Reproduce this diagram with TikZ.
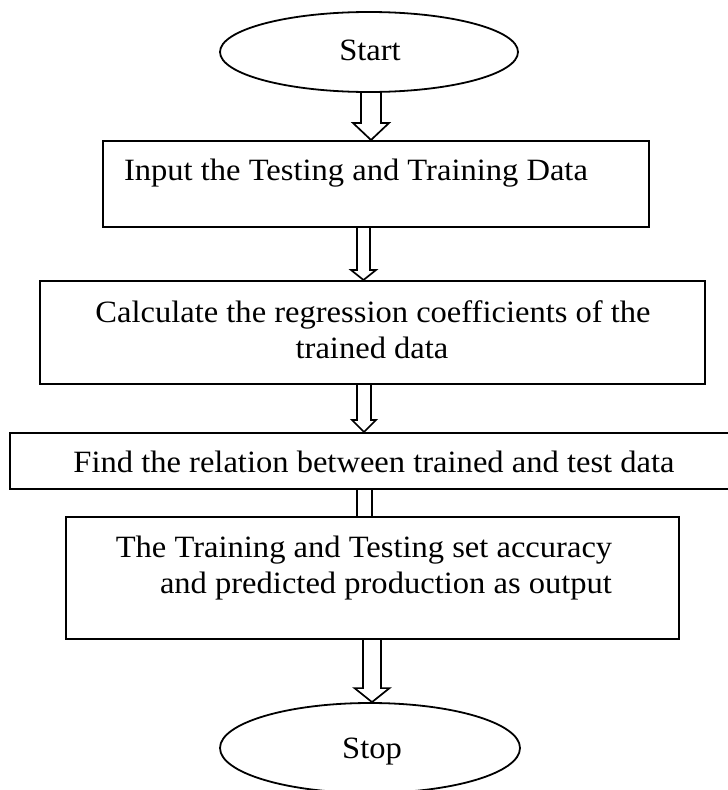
\documentclass[tikz,border=0pt]{standalone}
\usepackage{fontspec}
\setmainfont[FakeStretch=1.05]{Liberation Serif}
\usetikzlibrary{shapes.geometric,calc}

% Hollow block arrow between two anchors:
% #1 top anchor, #2 bottom anchor, #3 centre x, #4 shaft half width,
% #5 head half width, #6 head length
\newcommand\hollowarrow[6]{%
  \draw[arrowline] let \p1=(#1), \p2=(#2) in
    ({(#3-#4)*1pt},\y1) -- ({(#3-#4)*1pt},{\y2+#6*1pt})
    -- ({(#3-#5)*1pt},{\y2+#6*1pt}) -- ({#3*1pt},\y2)
    -- ({(#3+#5)*1pt},{\y2+#6*1pt}) -- ({(#3+#4)*1pt},{\y2+#6*1pt})
    -- ({(#3+#4)*1pt},\y1);}

\tikzset{
  terminal/.style={draw, line width=1.8pt, ellipse, inner sep=0pt},
  stepbox/.style={draw, line width=2pt, rectangle, inner sep=0pt},
  arrowline/.style={draw, line width=1.7pt, line join=miter},
  label/.style={anchor=base, inner sep=0pt, font=\fontsize{31}{36}\selectfont},
}

\begin{document}
\begin{tikzpicture}[x=1pt, y=-1pt]
  \useasboundingbox (0,0) rectangle (728,790);

  % terminals
  \node[terminal, minimum width=298pt, minimum height=80pt] (start) at (369,52) {};
  \node[terminal, minimum width=300pt, minimum height=90pt] (stop) at (370,748) {};

  % process boxes
  \node[stepbox, minimum width=546pt, minimum height=86pt] (b1) at (376,184) {};
  \node[stepbox, minimum width=665pt, minimum height=103pt] (b2) at (372.5,332.5) {};
  \node[stepbox, minimum width=724pt, minimum height=56pt] (b3) at (372,461) {};
  \node[stepbox, minimum width=613pt, minimum height=122pt] (b4) at (372.5,578) {};

  % texts
  \node[label] (tstart) at (370,60) {Start};
  \node[label] (t1) at (356,180) {Input the Testing and Training Data};
  \node[label] (t2a) at (373,322) {Calculate the regression coefficients of the};
  \node[label] (t2b) at (372,358) {trained data};
  \node[label] (t3) at (374,472) {Find the relation between trained and test data};
  \node[label] (t4a) at (364,557) {The Training and Testing set accuracy};
  \node[label] (t4b) at (386,593) {and predicted production as output};
  \node[label] (tstop) at (372,758) {Stop};

  % block arrows
  \hollowarrow{start.south}{b1.north}{371}{10}{18}{17}
  \hollowarrow{b1.south}{b2.north}{363.5}{6.5}{12.5}{10}
  \hollowarrow{b2.south}{b3.north}{364}{7}{12}{12}
  \draw[arrowline] let \p1=(b3.south), \p2=(b4.north) in
    (357pt,\y1) -- (357pt,\y2) (372pt,\y1) -- (372pt,\y2);
  \hollowarrow{b4.south}{stop.north}{372}{9}{17.5}{14}
\end{tikzpicture}
\end{document}
